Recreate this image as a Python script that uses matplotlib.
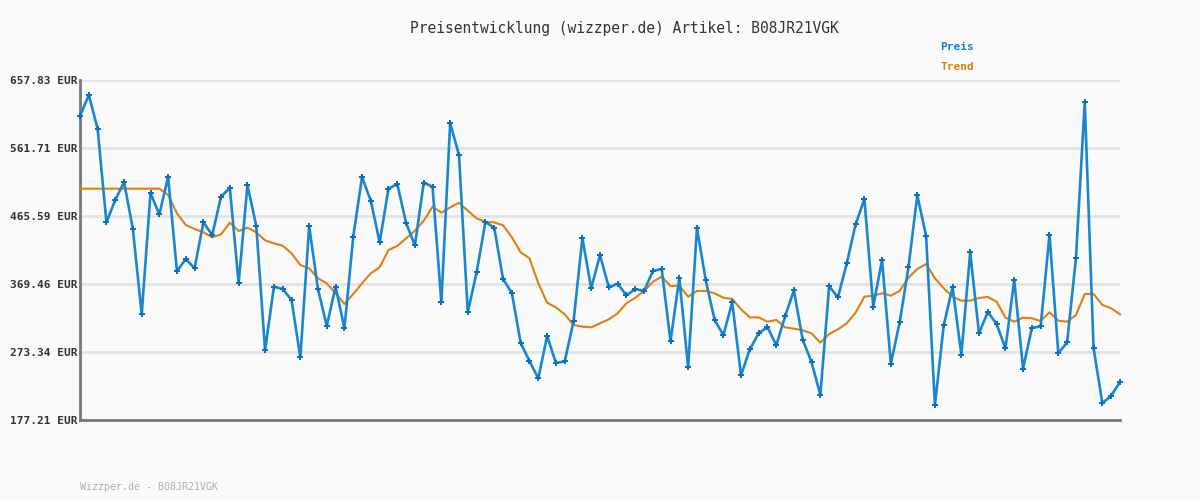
import matplotlib
matplotlib.use("Agg")
import matplotlib.pyplot as plt

title = "Preisentwicklung (wizzper.de) Artikel: B08JR21VGK"
footer = "Wizzper.de - B08JR21VGK"

preis = [606.9, 636.6, 588.6, 456.6, 488.2, 513.6, 447.2, 326.6, 498.1, 467.9,
         520.7, 387.4, 404.8, 391.6, 456.6, 438.7, 492.9, 505.2, 370.4, 509.4,
         451.4, 275.7, 365.6, 362.4, 346.8, 265.8, 451.4, 362.4, 310.1, 365.6,
         306.8, 435.9, 520.7, 486.8, 428.4, 504.2, 510.8, 455.7, 424.1, 512.7,
         507.0, 343.5, 597.0, 551.8, 329.4, 386.0, 457.1, 449.1, 376.5, 356.7,
         286.1, 260.6, 236.1, 295.9, 257.8, 260.1, 316.7, 434.5, 363.4, 410.4,
         364.7, 369.9, 353.4, 362.4, 359.6, 387.8, 390.7, 288.4, 377.9, 251.6,
         448.6, 374.6, 318.6, 297.3, 343.5, 240.4, 277.1, 299.7, 308.7, 282.8,
         323.8, 360.5, 290.7, 259.2, 212.5, 366.2, 350.6, 398.7, 453.8, 489.6,
         337.4, 403.4, 256.8, 315.3, 393.1, 494.8, 437.7, 197.9, 311.0, 365.2,
         269.5, 414.2, 299.7, 329.9, 312.9, 278.5, 375.1, 249.7, 307.3, 309.6,
         439.1, 271.5, 287.0, 405.8, 626.3, 279.0, 200.8, 211.6, 230.9]

trend = [504.2, 504.2, 504.2, 504.2, 504.2, 504.2, 504.2, 504.2, 504.2, 504.2,
         495.3, 469.3, 452.9, 447.2, 442.5, 435.5, 439.6, 456.1, 444.4, 449.1,
         442.5, 431.2, 426.9, 423.6, 412.8, 396.3, 391.6, 377.5, 370.4, 356.3,
         341.2, 355.3, 370.4, 384.6, 393.1, 417.5, 423.2, 434.0, 444.8, 458.9,
         478.7, 470.3, 477.8, 484.4, 473.1, 462.3, 457.1, 456.6, 452.4, 435.5,
         414.3, 405.8, 370.4, 343.0, 336.4, 326.6, 311.5, 309.1, 308.2, 313.9,
         319.5, 328.0, 342.2, 350.1, 359.6, 372.7, 379.8, 366.6, 367.1, 351.5,
         359.6, 359.6, 356.3, 350.1, 348.3, 333.6, 322.3, 322.3, 316.2, 318.6,
         308.2, 306.3, 304.0, 299.7, 286.5, 298.8, 305.4, 313.9, 329.0, 351.5,
         353.0, 356.3, 353.0, 359.6, 378.4, 390.7, 397.7, 377.5, 363.4, 351.5,
         345.9, 345.9, 349.7, 351.1, 344.5, 321.9, 316.2, 321.9, 321.0, 317.2,
         329.4, 317.6, 316.2, 325.6, 355.3, 355.3, 339.8, 335.1, 326.6]

yticks = [177.21, 273.34, 369.46, 465.59, 561.71, 657.83]
ytick_labels = ["177.21 EUR", "273.34 EUR", "369.46 EUR", "465.59 EUR", "561.71 EUR", "657.83 EUR"]

BLUE = "#1a86d0"
ORANGE = "#e07f10"
BG = "#fafafa"
MONO = "DejaVu Sans Mono"

fig = plt.figure(figsize=(12, 5), dpi=100, facecolor=BG)
ax = fig.add_axes([80/1200, 80/500, 1040/1200, 340/500])
ax.set_facecolor(BG)

x = list(range(len(preis)))
xt = list(range(len(trend)))

ax.set_xlim(0, len(preis) - 1)
ax.set_ylim(yticks[0], yticks[-1])
ax.set_yticks(yticks)
ax.set_yticklabels(ytick_labels, fontfamily=MONO, fontweight="bold", fontsize=8, color="#333333")
ax.set_xticks([])
ax.tick_params(axis="y", length=0, pad=2)

for t in yticks[1:]:
    ax.axhline(t, color="#e3e3e3", lw=2, zorder=1)

ax.plot(xt, trend, color=ORANGE, lw=1.5, zorder=3, clip_on=False)
ax.plot(x, preis, color=BLUE, lw=1.9, zorder=4, marker="P", markersize=3.8,
        markeredgewidth=0, markerfacecolor="#0a70c0", clip_on=False)

for s in ["top", "right"]:
    ax.spines[s].set_visible(False)
for s in ["left", "bottom"]:
    ax.spines[s].set_color("#777777")
    ax.spines[s].set_linewidth(2)

fig.text(624/1200, 1 - 28/500, title, ha="center", va="center", fontfamily=MONO,
         fontsize=10.5, color="#333333")
fig.text(957/1200, 1 - 47/500, "Preis", ha="center", va="center", fontfamily=MONO,
         fontsize=8, fontweight="bold", color="#1282d0")
fig.text(957/1200, 1 - 67/500, "Trend", ha="center", va="center", fontfamily=MONO,
         fontsize=8, fontweight="bold", color="#d9800f")
fig.text(80/1200, 1 - 487/500, footer, ha="left", va="center", fontfamily=MONO,
         fontsize=7.2, color="#b0b0b0")

fig.savefig("out.png", dpi=100, facecolor=BG)
